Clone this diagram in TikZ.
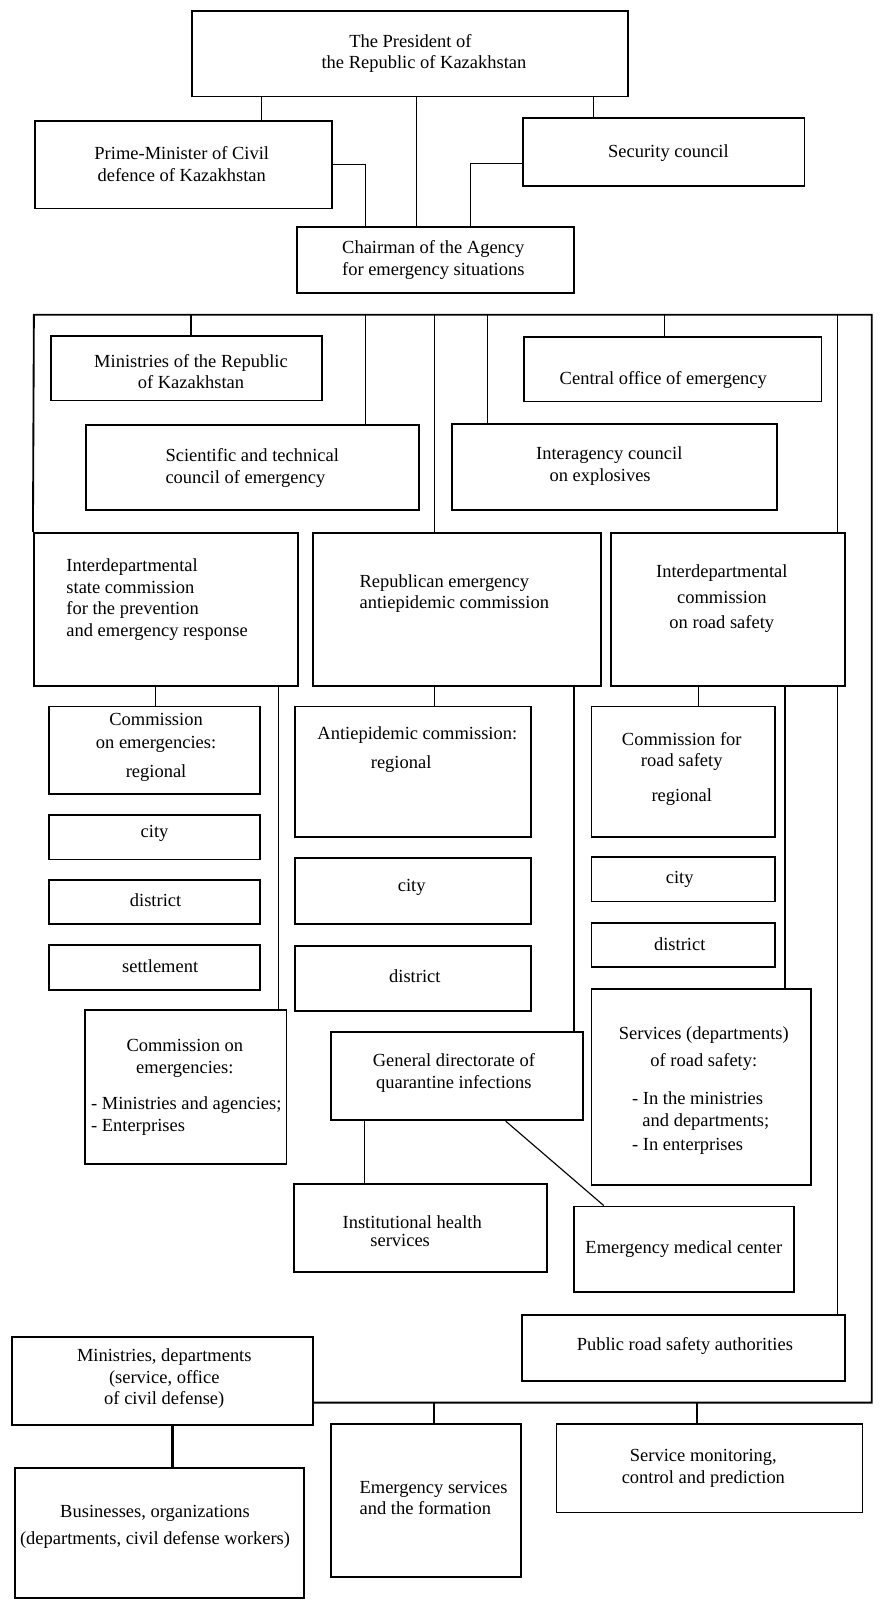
\documentclass[tikz,border=0pt]{standalone}
\usepackage{fontspec}
\setmainfont{Liberation Serif}
\newcommand{\bx}[5]{\node[box, minimum width={(#4)-(#2)}, minimum height={(#5)-(#3)}] (#1) at ({((#2)+(#4))/2},{((#3)+(#5))/2}) {};}
\begin{document}
\begin{tikzpicture}[x=1pt,y=-1pt,
  box/.style={draw, line width=1.8pt, inner sep=0pt},
  txt/.style={inner sep=0pt, font=\fontsize{18}{21}\selectfont},
  conn/.style={line width=1.1pt},
  framel/.style={line width=1.8pt},
  heavy/.style={line width=2.4pt}]
\fill[white] (0,0) rectangle (858,1568);
\useasboundingbox (0,0) rectangle (858,1568);
% boxes
\bx{pres}{187}{10.5}{612}{94}
\bx{pm}{34}{117.5}{323}{203}
\bx{sec}{509}{115}{783.5}{181}
\bx{chair}{289}{221}{559}{285}
\bx{minrk}{50}{327}{314}{390}
\bx{sci}{84}{414}{408}{497}
\bx{cent}{510}{328}{800}{391}
\bx{inter}{440}{413}{757}{497}
\bx{idsc}{33}{519}{290}{668}
\bx{repub}{305}{519}{585}{668}
\bx{road}{595}{519}{823}{668}
\bx{cer}{48}{688}{253}{773}
\bx{cec}{48}{794}{253}{837}
\bx{ced}{48}{857}{253}{900}
\bx{ces}{48}{920}{253}{964}
\bx{cel}{83}{984}{279}{1134}
\bx{aer}{287}{688}{517}{815}
\bx{aec}{287}{836}{517}{900}
\bx{aed}{287}{921}{517}{985}
\bx{gd}{322}{1005}{568}{1091}
\bx{inst}{286}{1153}{533}{1239}
\bx{emc}{559}{1175}{773}{1258}
\bx{rsr}{576}{688}{755}{815}
\bx{rsc}{576}{835}{755}{878}
\bx{rsd}{576}{899}{755}{942}
\bx{rss}{576}{963}{790}{1154}
\bx{prsa}{508}{1281}{823}{1345}
\bx{minsdep}{12}{1302}{305}{1388}
\bx{busn}{15}{1430}{296}{1556}
\bx{es}{322}{1387}{507}{1536}
\bx{sm}{542}{1387}{840}{1473}
% frame coordinates
\coordinate (ftl) at (33,306.5);
\coordinate (ftr) at (849,306.5);
\coordinate (fbr) at (849,1366);
% texts
\node[txt, align=left, anchor=west] (t1) at (313,52) {\hspace*{27pt}The President of\\the Republic of Kazakhstan};
\node[txt, align=center] (t2) at (177,160) {Prime-Minister of Civil\\defence of Kazakhstan};
\node[txt] (t3) at (651,149) {Security council};
\node[txt, align=center] (t4) at (422,253) {Chairman of the Agency\\for emergency situations};
\node[txt, align=center] (t5) at (186,362) {Ministries of the Republic\\of Kazakhstan};
\node[txt, align=left, anchor=west] (t6) at (161,456) {Scientific and technical\\council of emergency};
\node[txt] (t7) at (646,370) {Central office of emergency};
\node[txt, align=left, anchor=west] (t8) at (522,454) {Interagency council\\\hspace*{13pt}on explosives};
\node[txt, align=left, anchor=west] (t9) at (64.5,584) {Interdepartmental\\state commission\\for the prevention\\and emergency response};
\node[txt, align=left, anchor=west] (t10) at (350,578) {Republican emergency\\antiepidemic commission};
\node[txt, align=center] (t11) at (703,583) {Interdepartmental\\[4pt]commission\\[4pt]on road safety};
\node[txt, align=center] (t12) at (152,728) {Commission\\[1pt]on emergencies:\\[8pt]regional};
\node[txt] (t13) at (150.5,812) {city};
\node[txt] (t14) at (151.5,877) {district};
\node[txt] (t15) at (156,941) {settlement};
\node[txt, align=center] (t16) at (180,1031) {Commission on\\emergencies:};
\node[txt, align=left, anchor=west] (t17) at (88.5,1087) {- Ministries and agencies;\\- Enterprises};
\node[txt, align=left, anchor=west] (t18) at (309,730) {Antiepidemic commission:\\[7pt]\hspace*{52pt}regional};
\node[txt] (t19) at (401,864) {city};
\node[txt] (t20) at (404,951) {district};
\node[txt, align=center] (t21) at (442,1045) {General directorate of\\quarantine infections};
\node[txt, align=center] (t22) at (664,749) {Commission for\\road safety\\[13pt]regional};
\node[txt] (t23) at (662,856) {city};
\node[txt] (t24) at (662,920) {district};
\node[txt, align=center] (t25) at (685.5,1021) {Services (departments)\\[5pt]of road safety:};
\node[txt, align=left, anchor=west] (t26) at (615.5,1094) {- In the ministries\\\hspace*{10pt}and departments;\\[3pt]- In enterprises};
\node[txt, align=left, anchor=west] (t27) at (333.5,1199) {Institutional health\\[-3pt]\hspace*{27pt}services};
\node[txt] (t28) at (666,1216) {Emergency medical center};
\node[txt] (t29) at (667,1311) {Public road safety authorities};
\node[txt, align=center] (t30) at (160,1343) {Ministries, departments\\(service, office\\of civil defense)};
\node[txt, align=center] (t31) at (151,1487) {Businesses, organizations\\[5pt](departments, civil defense workers)};
\node[txt, align=left, anchor=west] (t32) at (350,1459) {Emergency services\\and the formation};
\node[txt, align=center] (t33) at (685,1430) {Service monitoring,\\control and prediction};
% top connectors
\draw[conn] (pres.south -| 255,0) -- (pm.north -| 255,0);
\draw[conn] (pres.south -| 406,0) -- (chair.north -| 406,0);
\draw[conn] (pres.south -| 578,0) -- (sec.north -| 578,0);
\draw[conn] (pm.east |- 0,160.5) -| (chair.north -| 356,0);
\draw[conn] (sec.west |- 0,159) -| (chair.north -| 458.5,0);
% frame
\draw[framel] (idsc.north west) -- (ftl) -- (ftr) -- (fbr) -- (fbr -| minsdep.east);
\draw[conn] (ftl -| 186,0) -- (minrk.north -| 186,0);
\draw[conn] (ftl -| 356,0) -- (sci.north -| 356,0);
\draw[conn] (ftl -| 423,0) -- (repub.north -| 423,0);
\draw[conn] (ftl -| 475,0) -- (inter.north -| 475,0);
\draw[conn] (ftl -| 647,0) -- (cent.north -| 647,0);
\draw[conn] (ftl -| 816,0) -- (road.north -| 816,0);
\draw[conn] (road.south -| 816,0) -- (prsa.north -| 816,0);
% commission connectors
\draw[conn] (idsc.south -| 151.5,0) -- (cer.north -| 151.5,0);
\draw[conn] (idsc.south -| 271,0) -- (cel.north -| 271,0);
\draw[conn] (repub.south -| 423,0) -- (aer.north -| 423,0);
\draw[conn] (repub.south -| 559,0) -- (gd.north -| 559,0);
\draw[conn] (road.south -| 680,0) -- (rsr.north -| 680,0);
\draw[conn] (road.south -| 764.5,0) -- (rss.north -| 764.5,0);
\draw[conn] (gd.south -| 355,0) -- (inst.north -| 355,0);
\draw[conn] (gd.south -| 492.5,0) -- (emc.north -| 588,0);
% bottom connectors
\draw[heavy] (minsdep.south -| 168,0) -- (busn.north -| 168,0);
\draw[framel] (fbr -| 423,0) -- (es.north -| 423,0);
\draw[framel] (fbr -| 679,0) -- (sm.north -| 679,0);
\end{tikzpicture}
\end{document}
